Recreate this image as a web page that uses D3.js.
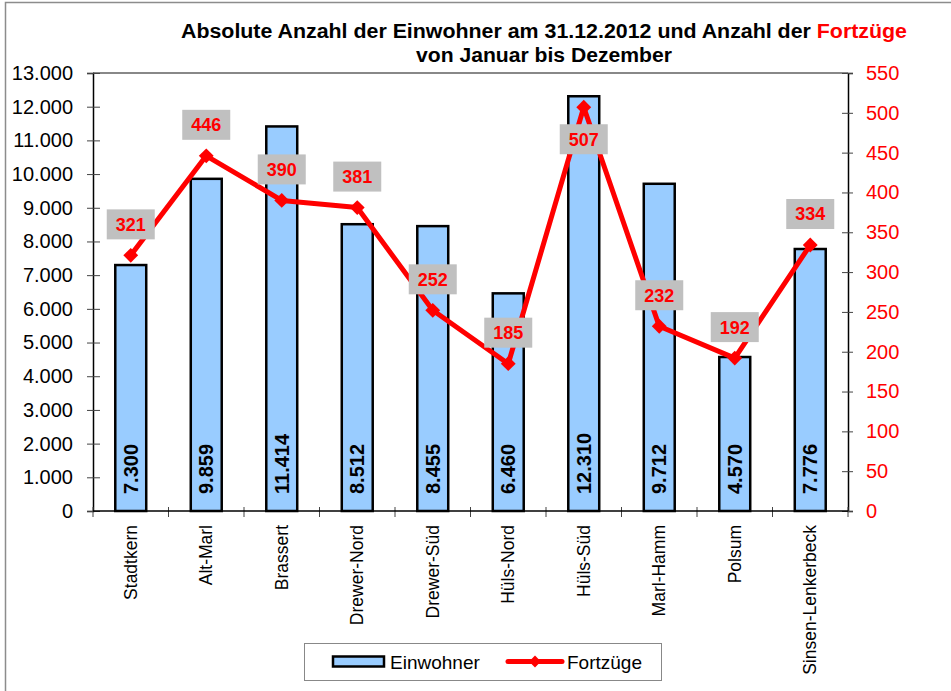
<!DOCTYPE html>
<html><head>
<meta charset="utf-8">
<script src="https://d3js.org/d3.v7.min.js"></script>
<style>
  body { margin: 0; background: #fff; }
  svg text { font-family: "Liberation Sans", Arial, sans-serif; }
</style>
</head>
<body>
<svg id="chart" width="951" height="691"></svg>
<script>
// data
const districts = ["Stadtkern", "Alt-Marl", "Brassert", "Drewer-Nord", "Drewer-Süd",
                   "Hüls-Nord", "Hüls-Süd", "Marl-Hamm", "Polsum", "Sinsen-Lenkerbeck"];
const einwohner = [7300, 9859, 11414, 8512, 8455, 6460, 12310, 9712, 4570, 7776];
const fortzuege = [321, 446, 390, 381, 252, 185, 507, 232, 192, 334];
const leftTicks = d3.range(0, 13001, 1000);
const rightTicks = d3.range(0, 551, 50);

const svg = d3.select("svg#chart");
const margins = {top: 73, left: 93, right: 103, bottom: 180};
const width = +svg.attr("width");
const height = +svg.attr("height");
const chartWidth = width - margins.left - margins.right;
const chartHeight = height - margins.top - margins.bottom;

const fmt = d3.formatLocale({decimal: ",", thousands: ".", grouping: [3], currency: ["", "€"]}).format(",d");

// outer frame
svg.append("rect").attr("x", 5.5).attr("y", 2.5).attr("width", 1000).attr("height", 1000)
   .attr("fill", "none").attr("stroke", "#8c8c8c").attr("stroke-width", 1.5);

// title
const title = svg.append("text").attr("x", 544).attr("y", 38).attr("text-anchor", "middle")
   .attr("font-size", 20).attr("font-weight", "bold")
   .attr("textLength", 726).attr("lengthAdjust", "spacingAndGlyphs");
title.append("tspan").text("Absolute Anzahl der Einwohner am 31.12.2012 und Anzahl der ");
title.append("tspan").attr("fill", "#ff0000").text("Fortzüge");
svg.append("text").attr("x", 544).attr("y", 62).attr("text-anchor", "middle")
   .attr("font-size", 20).attr("font-weight", "bold")
   .attr("textLength", 256).attr("lengthAdjust", "spacingAndGlyphs")
   .text("von Januar bis Dezember");

const xScale = d3.scaleBand().domain(districts).range([0, chartWidth]).paddingInner(0.59).paddingOuter(0.295);
const yLeft = d3.scaleLinear().domain([0, 13000]).range([chartHeight, 0]);
const yRight = d3.scaleLinear().domain([0, 550]).range([chartHeight, 0]);

const chart = svg.append("g").attr("transform", "translate(" + margins.left + "," + margins.top + ")");

// plot top border
chart.append("line").attr("x1", 0).attr("x2", chartWidth).attr("y1", 0).attr("y2", 0)
   .attr("stroke", "#888").attr("stroke-width", 2);

// left axis
const leftAxis = d3.axisLeft(yLeft).tickValues(leftTicks).tickFormat(fmt).tickSize(6).tickPadding(14);
const gl = chart.append("g").call(leftAxis);
gl.select(".domain").attr("stroke", "#000").attr("stroke-width", 1.5);
gl.selectAll(".tick line").attr("x2", -6).attr("x1", 7).attr("stroke", "#444");
gl.selectAll(".tick text").attr("font-size", 20).attr("fill", "#000").attr("font-family", "Liberation Sans, Arial, sans-serif");

// right axis
const rightAxis = d3.axisRight(yRight).tickValues(rightTicks).tickSize(5).tickPadding(13);
const gr = chart.append("g").attr("transform", "translate(" + chartWidth + ",0)").call(rightAxis);
gr.select(".domain").attr("stroke", "#000").attr("stroke-width", 1.5);
gr.selectAll(".tick line").attr("x1", -6).attr("stroke", "#444");
gr.selectAll(".tick text").attr("font-size", 20).attr("fill", "#ff0000").attr("font-family", "Liberation Sans, Arial, sans-serif");

// bottom axis with ticks at category boundaries
const boundaries = d3.range(districts.length + 1).map(i => i * chartWidth / districts.length);
const gb = chart.append("g").attr("transform", "translate(0," + chartHeight + ")");
gb.selectAll("line.tk").data(boundaries).join("line")
   .attr("x1", d => d).attr("x2", d => d).attr("y1", -4).attr("y2", 6)
   .attr("stroke", "#444").attr("stroke-width", 1);

// bars
chart.selectAll("rect.bar").data(districts).join("rect")
   .attr("class", "bar")
   .attr("x", d => xScale(d))
   .attr("y", (d, i) => yLeft(einwohner[i]))
   .attr("width", xScale.bandwidth())
   .attr("height", (d, i) => chartHeight - yLeft(einwohner[i]))
   .attr("fill", "#99ccff").attr("stroke", "#000").attr("stroke-width", 2.5);

gb.append("line").attr("x1", 0).attr("x2", chartWidth).attr("stroke", "#000").attr("stroke-width", 1.5);

// bar value labels
chart.selectAll("text.barlab").data(districts).join("text")
   .attr("transform", d => "translate(" + (xScale(d) + xScale.bandwidth() / 2 + 7) + "," + (chartHeight - 17) + ") rotate(-90)")
   .attr("font-size", 20).attr("font-weight", "bold")
   .text((d, i) => fmt(einwohner[i]));

// category labels
chart.selectAll("text.cat").data(districts).join("text")
   .attr("transform", d => "translate(" + (xScale(d) + xScale.bandwidth() / 2 + 6) + "," + (chartHeight + 14) + ") rotate(-90)")
   .attr("text-anchor", "end").attr("font-size", 17.5)
   .text(d => d);

const cx = d => xScale(d) + xScale.bandwidth() / 2;

// line
const line = d3.line().x(d => cx(d)).y((d, i) => yRight(fortzuege[i]));
chart.append("path").datum(districts).attr("d", line)
   .attr("fill", "none").attr("stroke", "#ff0000").attr("stroke-width", 5).attr("stroke-linejoin", "round");

chart.selectAll("path.mk").data(districts).join("path")
   .attr("transform", (d, i) => "translate(" + cx(d) + "," + yRight(fortzuege[i]) + ") rotate(45)")
   .attr("d", d3.symbol().type(d3.symbolSquare).size(110))
   .attr("fill", "#ff0000");

// line value labels (above the point, below it if there is no room)
const labelY = i => {
  const py = yRight(fortzuege[i]);
  return (py - 46 < 0) ? py + 32 : py - 31;
};
const lab = chart.selectAll("g.lab").data(districts).join("g")
   .attr("transform", (d, i) => "translate(" + cx(d) + "," + labelY(i) + ")");
lab.append("rect").attr("x", -24).attr("y", -15).attr("width", 48).attr("height", 30).attr("fill", "#c0c0c0");
lab.append("text").attr("text-anchor", "middle").attr("dy", "0.36em")
   .attr("font-size", 18).attr("font-weight", "bold").attr("fill", "#ff0000")
   .text((d, i) => fortzuege[i]);

// legend
const leg = svg.append("g");
leg.append("rect").attr("x", 304.5).attr("y", 643.5).attr("width", 357).attr("height", 37)
   .attr("fill", "#fff").attr("stroke", "#888").attr("stroke-width", 1);
leg.append("rect").attr("x", 333).attr("y", 656.5).attr("width", 51).attr("height", 10)
   .attr("fill", "#99ccff").attr("stroke", "#000").attr("stroke-width", 2.5);
leg.append("text").attr("x", 390).attr("y", 668.5).attr("font-size", 19).text("Einwohner");
leg.append("line").attr("x1", 508).attr("x2", 562).attr("y1", 661.5).attr("y2", 661.5)
   .attr("stroke", "#ff0000").attr("stroke-width", 5).attr("stroke-linecap", "round");
leg.append("path").attr("transform", "translate(535,661.5) rotate(45)")
   .attr("d", d3.symbol().type(d3.symbolSquare).size(70)).attr("fill", "#ff0000");
leg.append("text").attr("x", 567).attr("y", 668.5).attr("font-size", 19).text("Fortzüge");
</script>
</body>
</html>
